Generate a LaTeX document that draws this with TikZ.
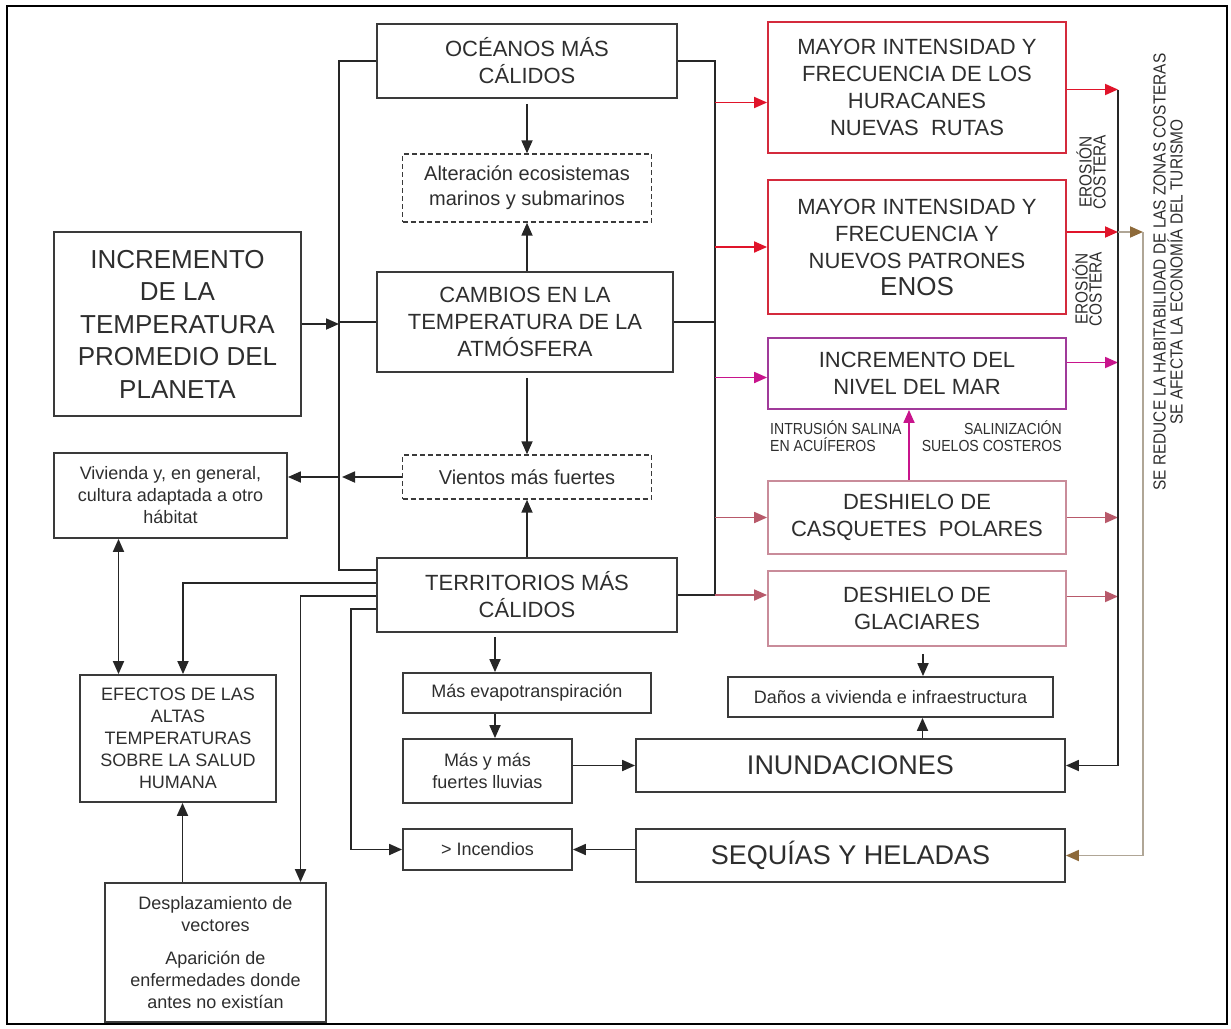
\documentclass[tikz,border=0pt]{standalone}
\usepackage{fontspec}
\setmainfont{Liberation Sans}
\newfontfamily\narrowfont[FakeStretch=0.88]{Liberation Sans}
\usetikzlibrary{arrows.meta}

\definecolor{boxline}{HTML}{3A3A3A}
\definecolor{txt}{HTML}{2E2E2E}
\definecolor{redline}{HTML}{D42A3C}
\definecolor{redarrow}{HTML}{E0142A}
\definecolor{magline}{HTML}{A03A9A}
\definecolor{magarrow}{HTML}{C8148C}
\definecolor{roseline}{HTML}{C98C9A}
\definecolor{rosearrow}{HTML}{B8596A}
\definecolor{brownline}{HTML}{B0A696}
\definecolor{browntip}{HTML}{8E6A3A}

\newcommand{\txtXL}{\fontsize{26}{32.5}\selectfont}
\newcommand{\txtBig}{\fontsize{27}{30}\selectfont}
\newcommand{\txtL}{\fontsize{22}{27}\selectfont}
\newcommand{\txtM}{\fontsize{20}{25}\selectfont}
\newcommand{\txtS}{\fontsize{18}{22}\selectfont}
\newcommand{\txtTag}{\narrowfont\fontsize{16}{17}\selectfont}
\newcommand{\txtEro}{\narrowfont\fontsize{17.5}{14}\selectfont}

\begin{document}
\begin{tikzpicture}[x=1pt,y=-1pt,
    box/.style={draw=boxline,line width=1.8pt,text=txt,align=center,inner sep=0pt},
    dbox/.style={box,line width=1.4pt,dash pattern=on 5pt off 3pt},
    ln/.style={draw=black!85,line width=1.8pt},
    arr/.style={ln,-{Triangle[length=13pt,width=11pt]}},
    dblarr/.style={ln,{Triangle[length=13pt,width=11pt]}-{Triangle[length=13pt,width=11pt]}},
    tag/.style={text=txt,inner sep=0pt,font=\txtTag}]
  \useasboundingbox (0,0) rectangle (1231,1028);
  \draw[line width=2pt] (7,6) rectangle (1227,1024);

  % columna central
  \node[box,minimum width=300,minimum height=74,font=\txtL] (oceanos) at (527,61) {OCÉANOS MÁS\\CÁLIDOS};
  \node[dbox,minimum width=249,minimum height=68,font=\txtM] (alteracion) at (527,188) {Alteración ecosistemas\\marinos y submarinos};
  \node[box,minimum width=296,minimum height=100,font=\txtL] (cambios) at (525,322) {CAMBIOS EN LA\\TEMPERATURA DE LA\\ATMÓSFERA};
  \node[dbox,minimum width=249,minimum height=44,font=\txtM] (vientos) at (527,477) {Vientos más fuertes};
  \node[box,minimum width=300,minimum height=74,font=\txtL] (territorios) at (527,595) {TERRITORIOS MÁS\\CÁLIDOS};
  \node[box,minimum width=248,minimum height=40,font=\txtS] (evapo) at (527,693) {Más evapotranspiración};
  \node[box,minimum width=169,minimum height=64,font=\txtS] (lluvias) at (487.5,771) {Más y más\\fuertes lluvias};
  \node[box,minimum width=169,minimum height=41,font=\txtS] (incendios) at (487.5,849.5) {> Incendios};

  % columna izquierda
  \node[box,minimum width=247,minimum height=184,font=\txtXL] (incremento) at (177.5,324) {INCREMENTO\\DE LA\\TEMPERATURA\\PROMEDIO DEL\\PLANETA};
  \node[box,minimum width=233,minimum height=85,font=\txtS] (vivienda) at (170.5,495.5) {Vivienda y, en general,\\cultura adaptada a otro\\hábitat};
  \node[box,minimum width=196,minimum height=127,font=\txtS] (efectos) at (178,738.5) {EFECTOS DE LAS\\ALTAS\\TEMPERATURAS\\SOBRE LA SALUD\\HUMANA};
  \node[box,minimum width=221,minimum height=139,font=\txtS] (desplaz) at (215.5,952.5) {Desplazamiento de\\vectores\\[11pt]Aparición de\\enfermedades donde\\antes no existían};

  % columna derecha
  \node[box,draw=redline,minimum width=298,minimum height=131,font=\txtL] (huracanes) at (917,87.5) {MAYOR INTENSIDAD Y\\FRECUENCIA DE LOS\\HURACANES\\NUEVAS~~RUTAS};
  \node[box,draw=redline,minimum width=298,minimum height=134,font=\txtL] (enos) at (917,247) {MAYOR INTENSIDAD Y\\FRECUENCIA Y\\NUEVOS PATRONES\\{\fontsize{26}{30}\selectfont ENOS}};
  \node[box,draw=magline,minimum width=298,minimum height=71,font=\txtL] (nivel) at (917,373.5) {INCREMENTO DEL\\NIVEL DEL MAR};
  \node[box,draw=roseline,minimum width=298,minimum height=73,font=\txtL] (casquetes) at (917,517.5) {DESHIELO DE\\CASQUETES~~POLARES};
  \node[box,draw=roseline,minimum width=298,minimum height=75,font=\txtL] (glaciares) at (917,608.5) {DESHIELO DE\\GLACIARES};
  \node[box,minimum width=325,minimum height=40,font=\txtS] (danos) at (890.5,697) {Daños a vivienda e infraestructura};
  \node[box,minimum width=429,minimum height=53,font=\txtBig] (inundaciones) at (850.5,765.5) {INUNDACIONES};
  \node[box,minimum width=429,minimum height=53,font=\txtBig] (sequias) at (850.5,855.5) {SEQUÍAS Y HELADAS};

  % rotulos
  \node[tag,anchor=north west,align=left] (intrusion) at (770,420) {INTRUSIÓN SALINA\\EN ACUÍFEROS};
  \node[tag,anchor=north east,align=right] (salinizacion) at (1062,420) {SALINIZACIÓN\\SUELOS COSTEROS};
  \node[tag,font=\txtEro,rotate=90,align=center] (erosion1) at (1091,172) {EROSIÓN\\COSTERA};
  \node[tag,font=\txtEro,rotate=90,align=center] (erosion2) at (1087,289) {EROSIÓN\\COSTERA};
  \node[tag,font=\narrowfont\fontsize{17.5}{17}\selectfont,rotate=90,align=center] (habitab) at (1168,272)
    {SE REDUCE LA HABITABILIDAD DE LAS ZONAS COSTERAS\\SE AFECTA LA ECONOMÍA DEL TURISMO};

  \coordinate (lbus) at (339,0);
  \coordinate (rbus) at (715,0);
  \coordinate (ebus) at (1118,0);
  \coordinate (cbus) at (1143,0);
  \coordinate (tw1) at ([yshift=25pt]territorios.west);
  \coordinate (tw2) at ([yshift=12pt]territorios.west);
  \coordinate (tw3) at ([yshift=-1pt]territorios.west);
  \coordinate (tw4) at ([yshift=-14pt]territorios.west);

  % bus izquierdo
  \draw[ln] (oceanos.west) -- (oceanos.west -| lbus) -- (lbus |- tw1) -- (tw1);
  \draw[ln] (cambios.west) -- (cambios.west -| lbus);
  \draw[arr] (incremento.east) -- (incremento.east -| lbus);
  \draw[arr] (vientos.west) -- ([xshift=3pt]vientos.west -| lbus);
  \draw[arr] (vientos.west -| lbus) -- (vientos.west -| vivienda.east);
  \draw[arr] (tw2) -| ([xshift=5pt]efectos.north);
  \draw[arr] (tw3) -| ([xshift=85pt]desplaz.north);
  \draw[arr] (tw4) -| ([xshift=-51pt]incendios.west) -- (incendios.west);
  \draw[dblarr] ([xshift=-52pt]vivienda.south) -- ([xshift=-52pt]vivienda.south |- efectos.north);
  \draw[arr] ([xshift=-33pt]desplaz.north) -- ([xshift=-33pt]desplaz.north |- efectos.south);

  % centro
  \draw[arr] ([yshift=-5pt]oceanos.south) -- (alteracion.north);
  \draw[arr] (cambios.north -| alteracion.south) -- (alteracion.south);
  \draw[arr] ([yshift=-5pt]cambios.south -| vientos.north) -- (vientos.north);
  \draw[arr] (territorios.north) -- (vientos.south);
  \draw[arr] ([xshift=-32pt,yshift=-4pt]territorios.south) -- ([xshift=-32pt]territorios.south |- evapo.north);
  \draw[arr] ([xshift=-32pt]evapo.south) -- ([xshift=-32pt]evapo.south |- lluvias.north);
  \draw[arr] (lluvias.east |- inundaciones.west) -- (inundaciones.west);
  \draw[arr] (sequias.west |- incendios.east) -- (incendios.east);

  % bus derecho
  \draw[ln] (oceanos.east) -- (oceanos.east -| rbus) -- (rbus |- territorios.east) -- (territorios.east);
  \draw[ln] (cambios.east) -- (cambios.east -| rbus);
  \draw[arr,draw=redarrow] ([yshift=-15pt]huracanes.west -| rbus) -- ([yshift=-15pt]huracanes.west);
  \draw[arr,draw=redarrow] (enos.west -| rbus) -- (enos.west);
  \draw[arr,draw=magarrow] ([yshift=-4pt]nivel.west -| rbus) -- ([yshift=-4pt]nivel.west);
  \draw[arr,draw=rosearrow] (casquetes.west -| rbus) -- (casquetes.west);
  \draw[arr,draw=rosearrow] (territorios.east -| rbus) -- (territorios.east -| glaciares.west);

  % salidas a la derecha
  \draw[arr,draw=redarrow] ([yshift=-2pt]huracanes.east) -- ([yshift=-2pt]huracanes.east -| ebus);
  \draw[arr,draw=redarrow] ([yshift=15pt]enos.east) -- ([yshift=15pt]enos.east -| ebus);
  \draw[arr,draw=magarrow] ([yshift=11pt]nivel.east) -- ([yshift=11pt]nivel.east -| ebus);
  \draw[arr,draw=rosearrow] (casquetes.east) -- (casquetes.east -| ebus);
  \draw[arr,draw=rosearrow] ([yshift=12pt]glaciares.east) -- ([yshift=12pt]glaciares.east -| ebus);
  \draw[arr] ([yshift=-2pt]huracanes.east -| ebus) -- (ebus |- inundaciones.east) -- (inundaciones.east);
  \draw[ln,draw=brownline,-{Triangle[length=13pt,width=11pt,color=browntip]}] ([yshift=15pt]enos.east -| ebus) -- ([yshift=15pt]enos.east -| cbus);
  \draw[ln,draw=brownline,-{Triangle[length=13pt,width=11pt,color=browntip]}] ([yshift=15pt]enos.east -| cbus) -- (cbus |- sequias.east) -- (sequias.east);

  \draw[arr,draw=magarrow] ([xshift=-8pt]casquetes.north) -- ([xshift=-8pt]casquetes.north |- nivel.south);
  \draw[arr] ([xshift=6pt,yshift=-7pt]glaciares.south) -- ([xshift=6pt]glaciares.south |- danos.north);
  \draw[arr] ([xshift=72pt]inundaciones.north) -- ([xshift=72pt]inundaciones.north |- danos.south);
\end{tikzpicture}
\end{document}
